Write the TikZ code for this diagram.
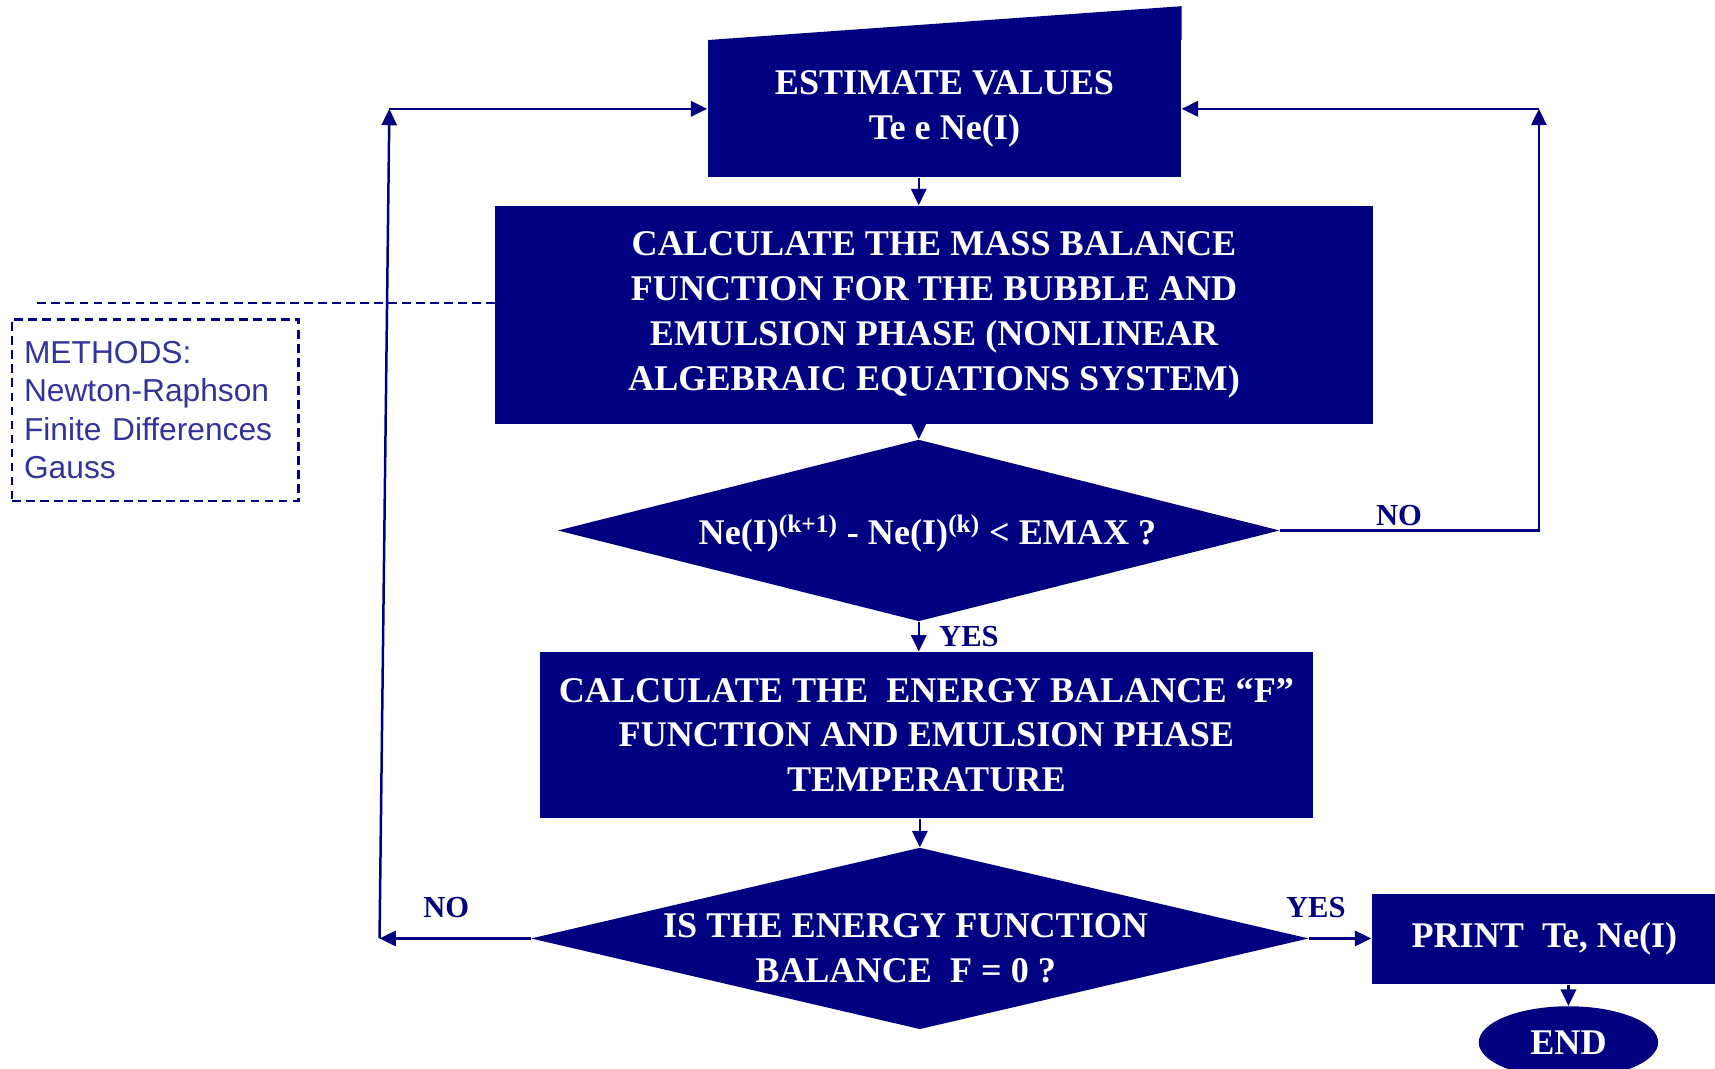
\documentclass[tikz,border=0pt]{standalone}
\usepackage{fontspec}
\setmainfont{Liberation Serif}
\newfontfamily\methfont{Liberation Sans}
\usepackage{tikz}
\usetikzlibrary{shapes.geometric, positioning, arrows.meta}
\definecolor{navy}{RGB}{0,0,128}
\definecolor{methblue}{RGB}{51,51,153}

\begin{document}
\begin{tikzpicture}[
    x=0.2mm, y=-0.2mm,
    every node/.style={font=\bfseries\fontsize{18.8}{23.3}\selectfont, text=white, align=center},
    procbox/.style={rectangle, fill=navy, inner sep=0pt},
    decision/.style={diamond, fill=navy, inner sep=0pt},
    lbl/.style={text=navy, font=\bfseries\fontsize{15.9}{18}\selectfont, inner sep=1pt},
    methods/.style={draw=navy, line width=1.3pt, dash pattern=on 4.5pt off 2.8pt,
        text=methblue, font=\methfont\fontsize{16.5}{19.9}\selectfont, align=left,
        text width=48mm, inner xsep=2.2mm, minimum width=52.4mm, minimum height=33.2mm},
    arr/.style={draw=navy, line width=1.3pt, -{Triangle[length=3mm,width=2.8mm]}}
]
    \useasboundingbox (0,0) rectangle (1568,977);

    \node[procbox, minimum width=86.6mm, minimum height=25mm] (est) at (863.5,99.5) {ESTIMATE VALUES\\Te e Ne(I)};
    \fill[navy] (est.north west) -- (est.north east) -- ++(0,-31) -- cycle;
    \node[procbox, minimum width=160.4mm, minimum height=40mm] (mass) at (854,288)
        {CALCULATE THE MASS BALANCE\\FUNCTION FOR THE BUBBLE AND\\EMULSION PHASE (NONLINEAR\\ALGEBRAIC EQUATIONS SYSTEM)};
    \node[decision, minimum width=132mm, minimum height=33.2mm] (d1) at (840,485) {};
    \node (d1t) at (848,488) {Ne(I)\textsuperscript{(k+1)} - Ne(I)\textsuperscript{(k)} < EMAX ?};
    \node[procbox, minimum width=141.2mm, minimum height=30.4mm] (energy) at (847,672)
        {CALCULATE THE~ ENERGY BALANCE “F”\\FUNCTION AND EMULSION PHASE\\TEMPERATURE};
    \node[decision, minimum width=142.2mm, minimum height=33.2mm] (d2) at (841,858) {};
    \node (d2t) at (828,867) {IS THE ENERGY FUNCTION\\BALANCE~ F = 0 ?};
    \node[procbox, minimum width=63.2mm, minimum height=16.6mm] (print) at (1412,858.5) {PRINT~ Te, Ne(I)};
    \node[ellipse, fill=navy, inner sep=0pt, minimum width=32.8mm, minimum height=13.2mm] (stop) at (1434,953) {END};
    \node[methods] (meth) at (142,375) {METHODS:\\Newton-Raphson\\Finite Differences\\Gauss};

    \coordinate (dashend) at (33,277);
    \coordinate (lbot) at (347,858);
    \coordinate (ltop) at (356,99.5);
    \coordinate (rbot) at (1407,485);
    \coordinate (rtop) at (1407,99.5);

    % main line
    \draw[arr] (est.south -| d1.north) -- (mass.north -| d1.north);
    \draw[arr] (mass.south -| d1.north) -- (d1.north);
    \draw[arr] (d1.south) -- node[lbl, right=9pt] (yes1) {YES} (energy.north -| d1.south);
    \draw[arr] (energy.south -| d2.north) -- (d2.north);
    \draw[arr] (d2.east) -- (d2.east -| print.west);
    \draw[arr] (print.south -| stop.north) -- (stop.north);

    % loops back to the estimate
    \draw[navy, line width=1.3pt, dash pattern=on 4.5pt off 2.8pt] (mass.west |- dashend) -- (dashend);
    \draw[arr] (d1.east) -- (rbot) -- (rtop);
    \draw[arr] (rtop) -- (est.east);
    \draw[arr] (d2.west) -- (lbot);
    \draw[arr] (lbot) -- (ltop);
    \draw[arr] (ltop) -- (est.west);

    \node[lbl] (no1) at (1279,471) {NO};
    \node[lbl] (no2) at (408,830) {NO};
    \node[lbl] (yes2) at (1203,830) {YES};
\end{tikzpicture}
\end{document}
